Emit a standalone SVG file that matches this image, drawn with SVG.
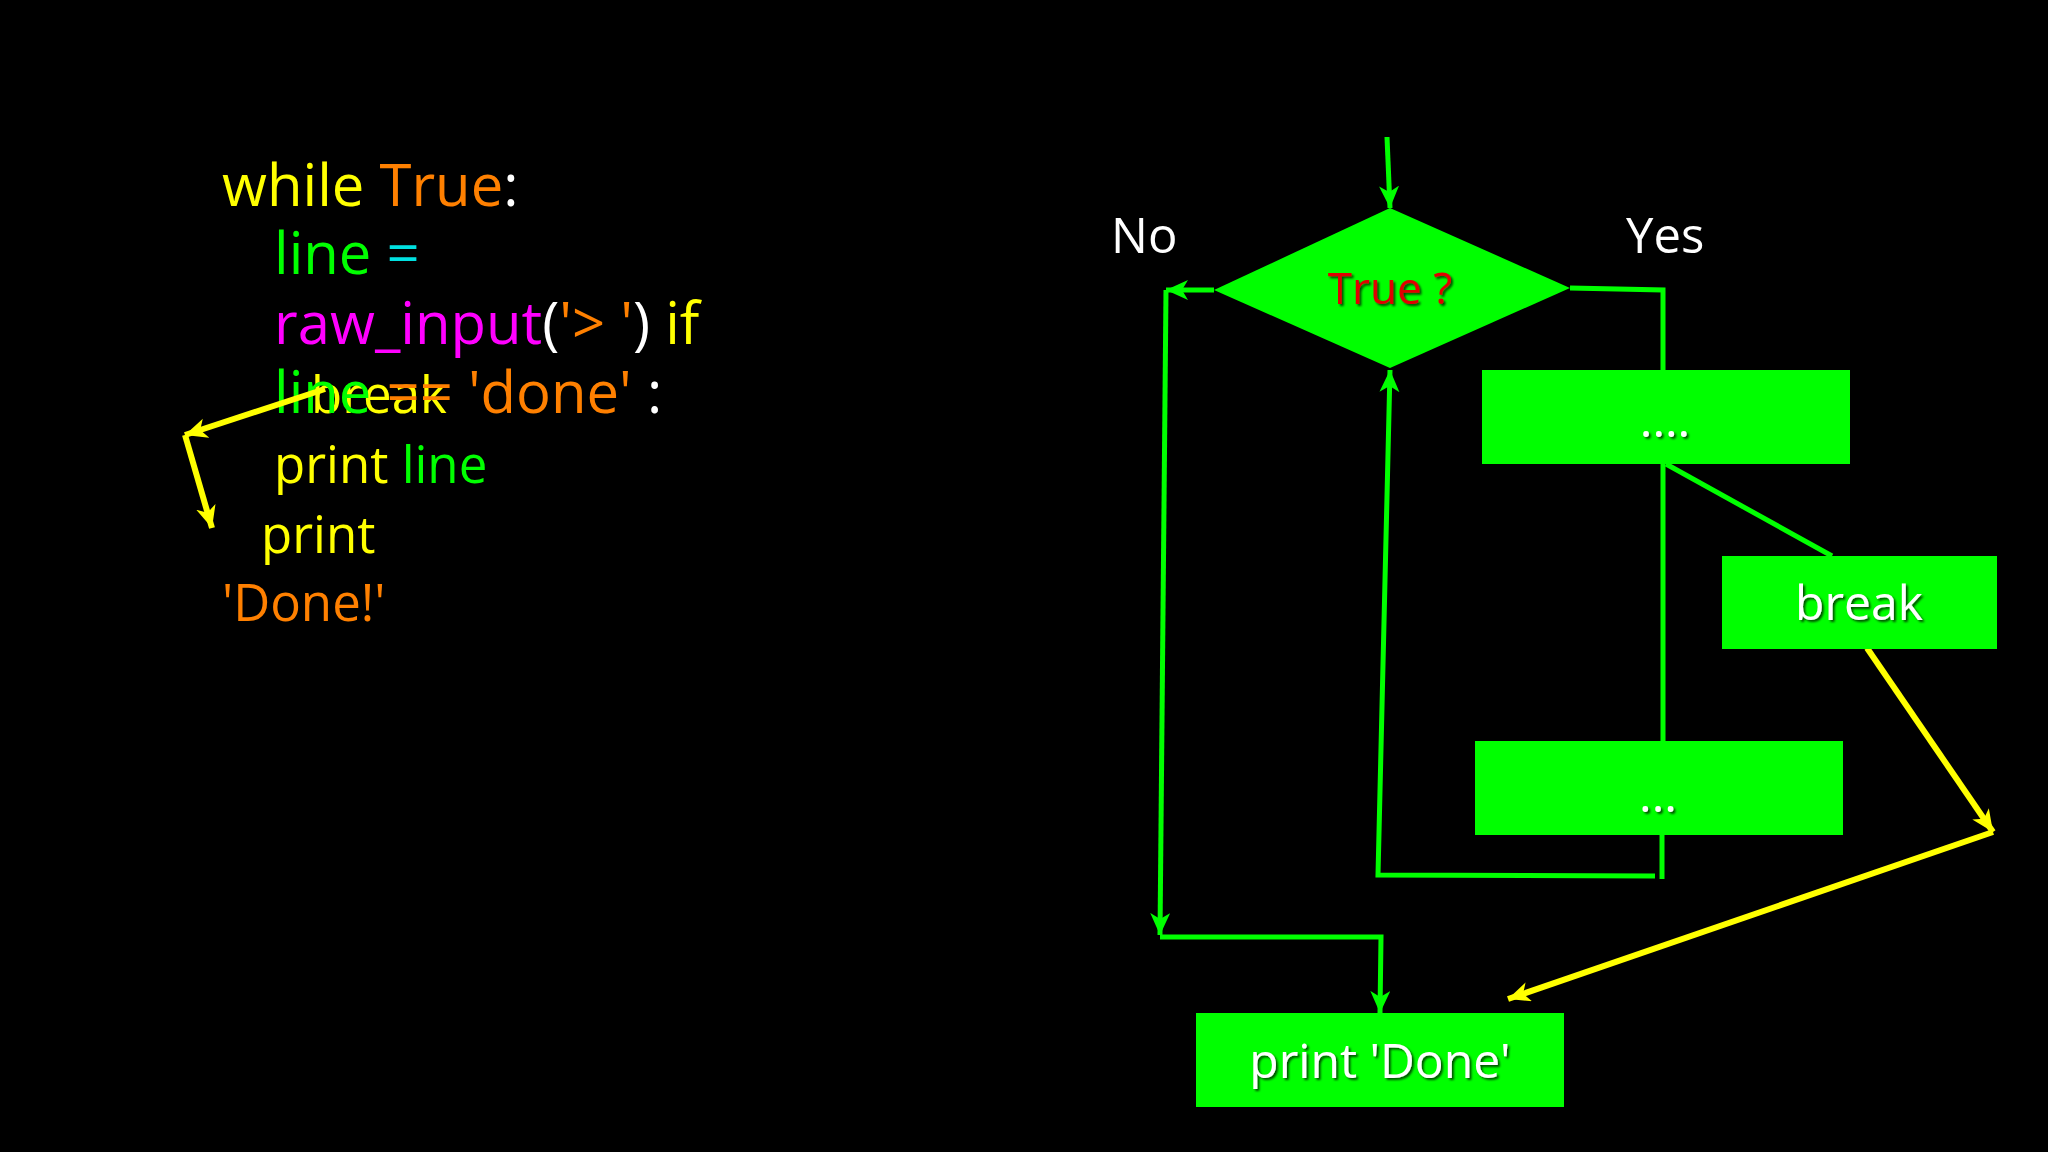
<svg xmlns="http://www.w3.org/2000/svg" width="2048" height="1152" viewBox="0 0 2048 1152">
<defs>
<style>
.code{font-family:"Open Sans","Noto Sans","Liberation Sans",sans-serif;font-size:58px}
.sm{font-size:51px}
.y{fill:#ffff00}.o{fill:#ff8000}.w{fill:#ffffff}.g{fill:#00ff00}.c{fill:#00e0e0}.m{fill:#ff00ff}
.lbl{font-family:"Open Sans","Noto Sans","Liberation Sans",sans-serif;font-size:49px;fill:#ffffff}
.box{fill:#00ff00}
.bt{font-family:"Open Sans","Noto Sans","Liberation Sans",sans-serif;font-size:48px;fill:#ffffff;text-anchor:middle;filter:url(#sh)}
.gl{fill:none;stroke:#00ff00;stroke-width:5}
.yl{fill:none;stroke:#ffff00;stroke-width:6}
</style>
<filter id="sh" x="-10%" y="-20%" width="130%" height="150%">
<feDropShadow dx="2" dy="2" stdDeviation="1" flood-color="#000000" flood-opacity="0.7"/>
</filter>
<marker id="ag" markerUnits="userSpaceOnUse" markerWidth="26" markerHeight="22" refX="22" refY="10" orient="auto">
<path d="M0,0 L22,10 L0,20 L6,10 z" fill="#00ff00"/>
</marker>
<marker id="ay" markerUnits="userSpaceOnUse" markerWidth="26" markerHeight="22" refX="22" refY="10" orient="auto">
<path d="M0,0 L22,10 L0,20 L6,10 z" fill="#ffff00"/>
</marker>
</defs>
<rect width="2048" height="1152" fill="#000000"/>

<g id="code">
<text class="code" x="222" y="206"><tspan class="y">while </tspan><tspan class="o">True</tspan><tspan class="w">:</tspan></text>
<text class="code" x="274" y="274"><tspan class="g">line </tspan><tspan class="c">=</tspan></text>
<text class="code" x="274" y="344"><tspan class="m">raw_input</tspan><tspan class="w">(</tspan><tspan class="o">'&gt; '</tspan><tspan class="w">)</tspan><tspan class="y"> if</tspan></text>
<text class="code sm y" x="311" y="413">break</text>
<text class="code" x="274" y="413"><tspan class="g">line </tspan><tspan class="o">== 'done'</tspan><tspan class="w"> :</tspan></text>
<text class="code sm" x="274" y="483"><tspan class="y">print </tspan><tspan class="g">line</tspan></text>
<text class="code sm y" x="261" y="553">print</text>
<text class="code sm o" x="222" y="621">'Done!'</text>
</g>

<g id="code-arrows">
<line class="yl" x1="325" y1="389" x2="185" y2="435" marker-end="url(#ay)"/>
<line class="yl" x1="185" y1="435" x2="212" y2="528" marker-end="url(#ay)"/>
</g>

<g id="connectors">
<line class="gl" x1="1387" y1="137" x2="1390" y2="208" marker-end="url(#ag)"/>
<line class="gl" x1="1214" y1="290" x2="1166" y2="290" marker-end="url(#ag)"/>
<line class="gl" x1="1166" y1="290" x2="1160" y2="935" marker-end="url(#ag)"/>
<polyline class="gl" points="1160,937 1381,937 1380,1013" marker-end="url(#ag)"/>
<polyline class="gl" points="1570,288 1663,290 1663,370"/>
<line class="gl" x1="1663" y1="464" x2="1663" y2="741"/>
<line class="gl" x1="1666" y1="464" x2="1832" y2="556"/>
<line class="gl" x1="1662" y1="835" x2="1662" y2="879"/>
<polyline class="gl" points="1655,876 1378,875 1390,370" marker-end="url(#ag)"/>
<line class="yl" x1="1867" y1="648" x2="1993" y2="832" marker-end="url(#ay)"/>
<line class="yl" x1="1993" y1="832" x2="1508" y2="999" marker-end="url(#ay)"/>
</g>

<g id="decision">
<polygon points="1390,208 1570,288 1390,368 1214,290" fill="#00ff00"/>
<text x="1390" y="304" text-anchor="middle" font-family="Open Sans,Noto Sans,Liberation Sans,sans-serif" font-size="44" fill="#e00000" filter="url(#sh)">True ?</text>
</g>
<g id="label-no"><text class="lbl" x="1111" y="253">No</text></g>
<g id="label-yes"><text class="lbl" x="1626" y="253">Yes</text></g>

<g id="step1">
<rect class="box" x="1482" y="370" width="368" height="94"/>
<text class="bt" x="1665" y="437">....</text>
</g>
<g id="break">
<rect class="box" x="1722" y="556" width="275" height="93"/>
<text class="bt" x="1859" y="620">break</text>
</g>
<g id="step2">
<rect class="box" x="1475" y="741" width="368" height="94"/>
<text class="bt" x="1658" y="812">...</text>
</g>
<g id="print-done">
<rect class="box" x="1196" y="1013" width="368" height="94"/>
<text class="bt" x="1380" y="1078">print 'Done'</text>
</g>
</svg>
